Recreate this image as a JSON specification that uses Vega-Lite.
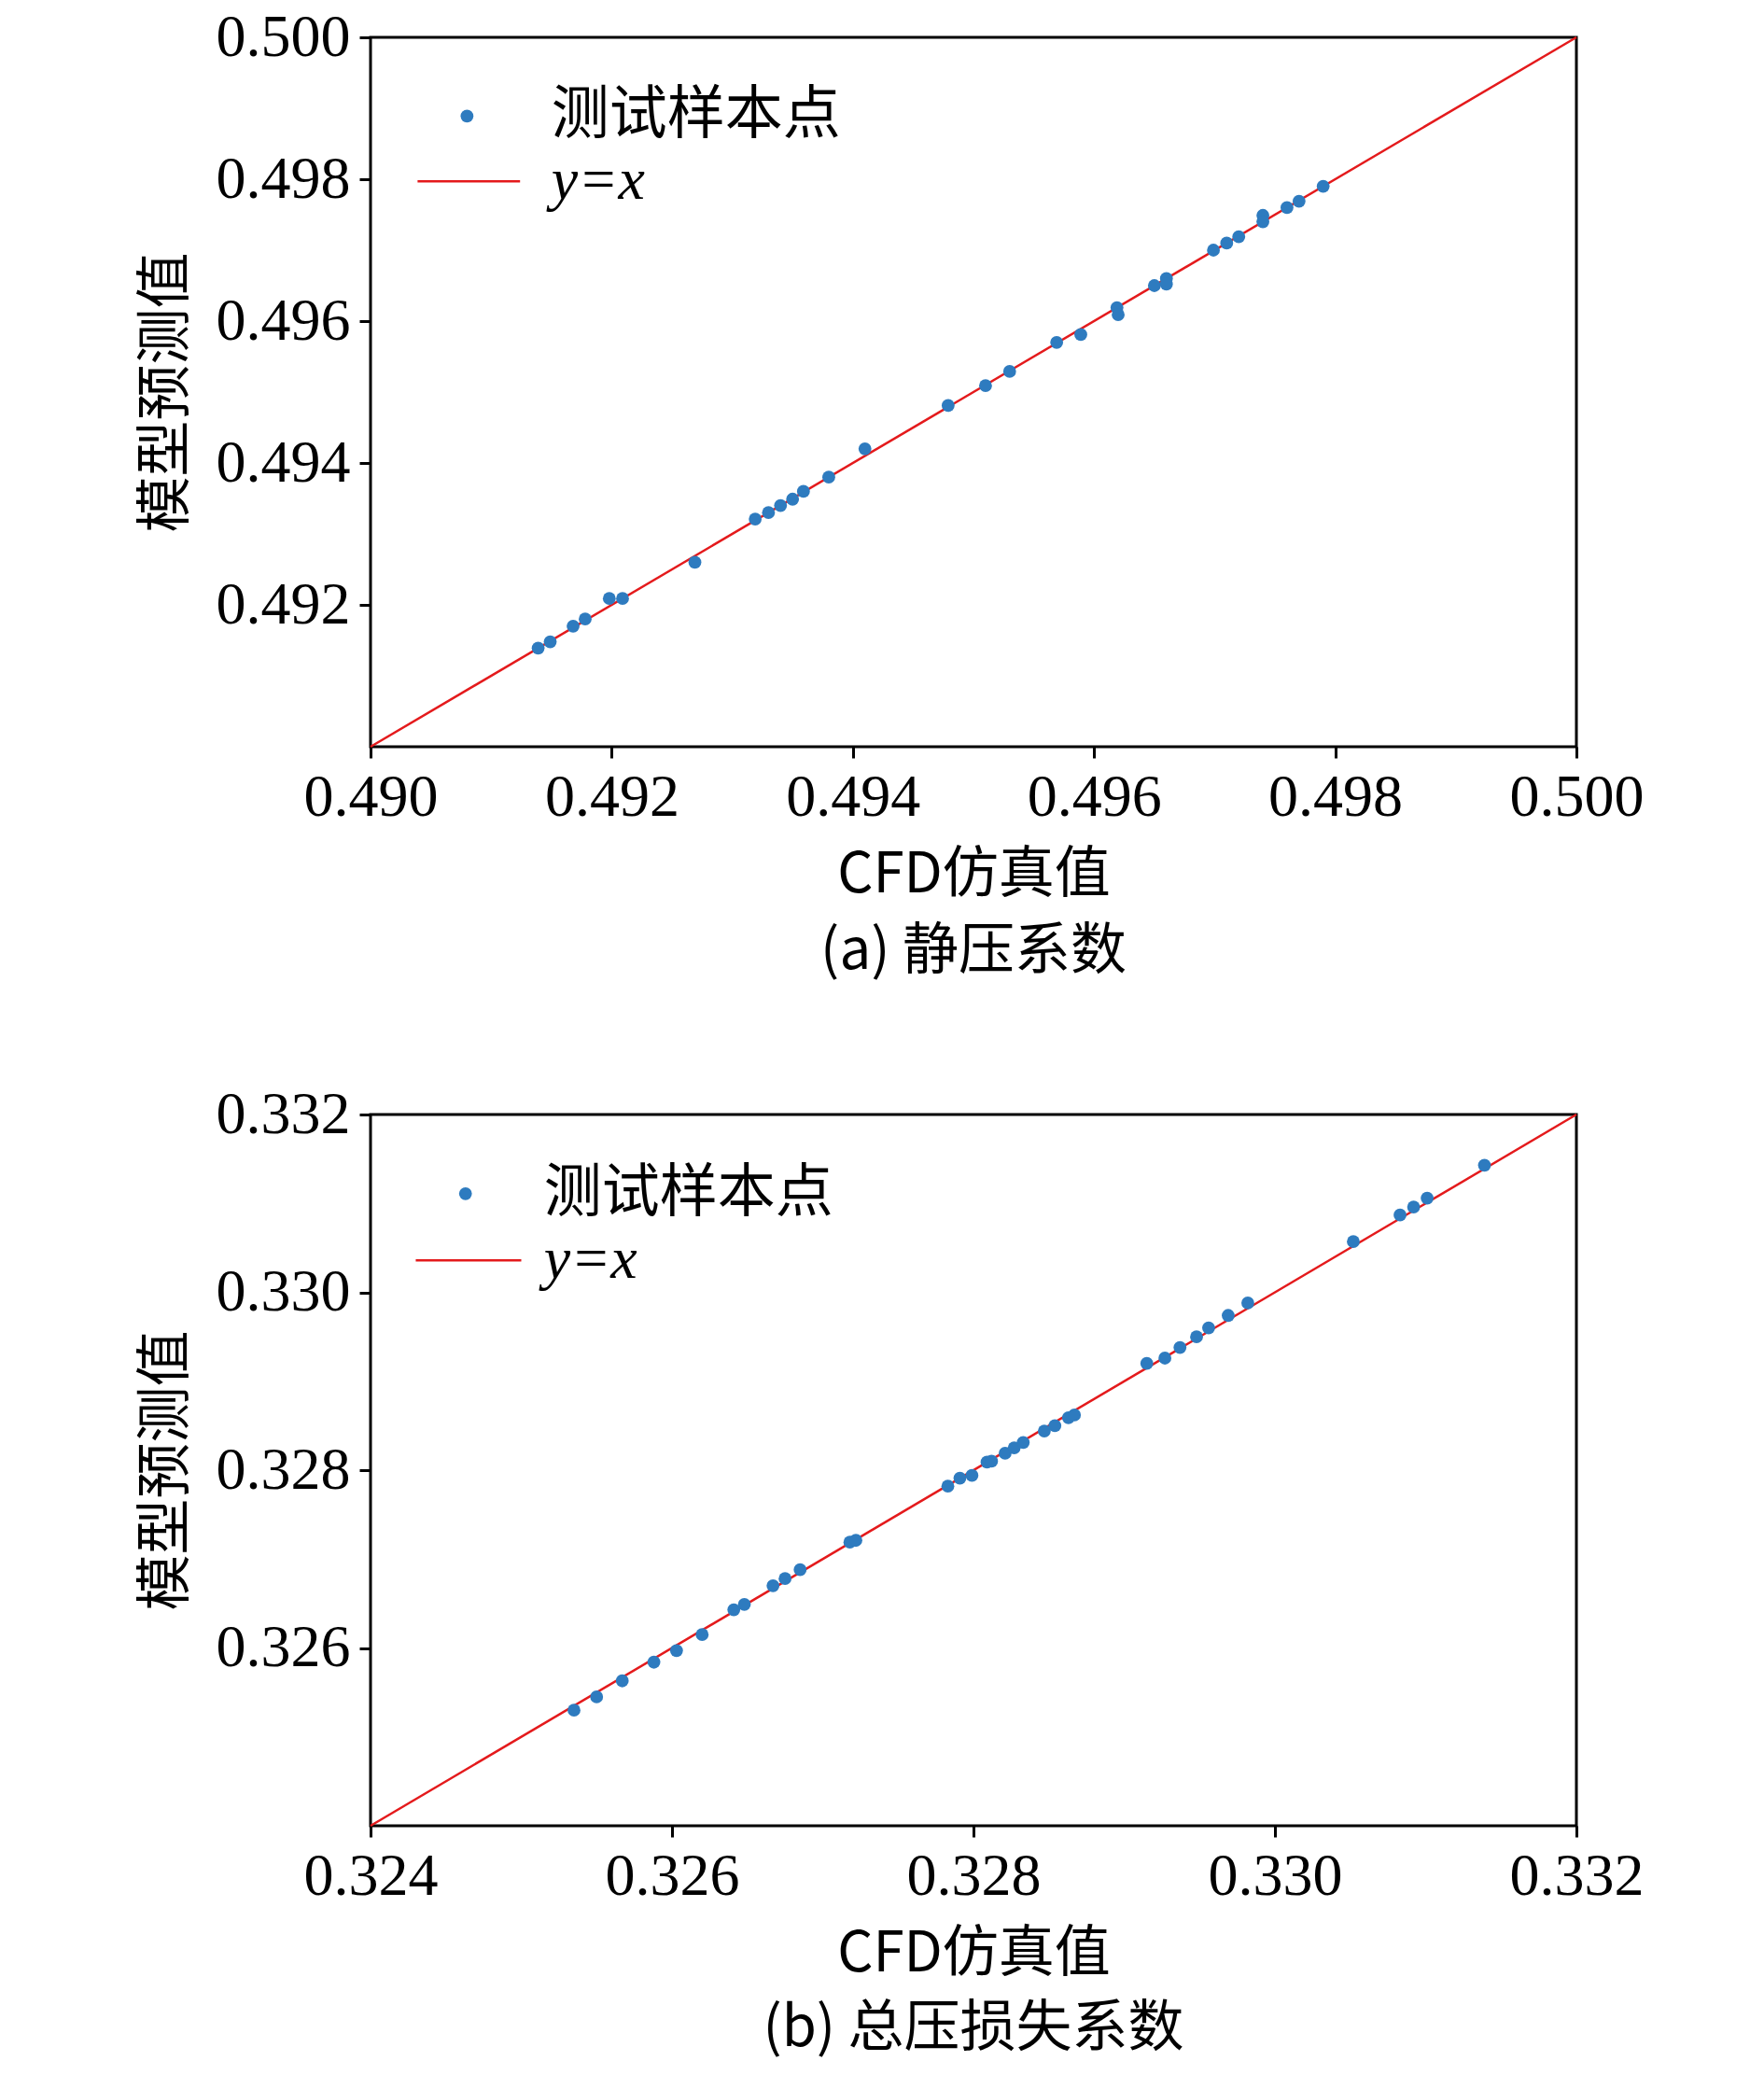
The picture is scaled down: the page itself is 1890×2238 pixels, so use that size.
{
  "$schema": "https://vega.github.io/schema/vega-lite/v6.json",
  "background": "white",
  "padding": {"left": 146, "top": 6, "right": 10, "bottom": 0},
  "datasets": {
    "a": [
      {"x": 0.49139, "y": 0.49139}, {"x": 0.49149, "y": 0.49148}, {"x": 0.49168, "y": 0.49170},
      {"x": 0.49178, "y": 0.49180}, {"x": 0.49198, "y": 0.49209}, {"x": 0.49209, "y": 0.49209},
      {"x": 0.49269, "y": 0.49260}, {"x": 0.49319, "y": 0.49321}, {"x": 0.49330, "y": 0.49330},
      {"x": 0.49340, "y": 0.49340}, {"x": 0.49350, "y": 0.49349}, {"x": 0.49359, "y": 0.49360},
      {"x": 0.49380, "y": 0.49380}, {"x": 0.49410, "y": 0.49420}, {"x": 0.49479, "y": 0.49481},
      {"x": 0.49510, "y": 0.49509}, {"x": 0.49530, "y": 0.49529}, {"x": 0.49569, "y": 0.49570},
      {"x": 0.49589, "y": 0.49581}, {"x": 0.49619, "y": 0.49619}, {"x": 0.49620, "y": 0.49609},
      {"x": 0.49650, "y": 0.49650}, {"x": 0.49660, "y": 0.49660}, {"x": 0.49660, "y": 0.49652},
      {"x": 0.49699, "y": 0.49700}, {"x": 0.49710, "y": 0.49710}, {"x": 0.49720, "y": 0.49719},
      {"x": 0.49740, "y": 0.49749}, {"x": 0.49740, "y": 0.49740}, {"x": 0.49760, "y": 0.49760},
      {"x": 0.49770, "y": 0.49769}, {"x": 0.49790, "y": 0.49790}
    ],
    "b": [
      {"x": 0.32535, "y": 0.32530}, {"x": 0.32550, "y": 0.32545}, {"x": 0.32567, "y": 0.32563},
      {"x": 0.32588, "y": 0.32584}, {"x": 0.32603, "y": 0.32597}, {"x": 0.32620, "y": 0.32615},
      {"x": 0.32641, "y": 0.32643}, {"x": 0.32648, "y": 0.32649}, {"x": 0.32667, "y": 0.32670},
      {"x": 0.32675, "y": 0.32678}, {"x": 0.32685, "y": 0.32688}, {"x": 0.32718, "y": 0.32719},
      {"x": 0.32722, "y": 0.32721}, {"x": 0.32783, "y": 0.32782}, {"x": 0.32791, "y": 0.32791},
      {"x": 0.32799, "y": 0.32794}, {"x": 0.32809, "y": 0.32809}, {"x": 0.32812, "y": 0.32810},
      {"x": 0.32821, "y": 0.32819}, {"x": 0.32827, "y": 0.32825}, {"x": 0.32833, "y": 0.32831},
      {"x": 0.32847, "y": 0.32844}, {"x": 0.32854, "y": 0.32850}, {"x": 0.32863, "y": 0.32859},
      {"x": 0.32867, "y": 0.32862}, {"x": 0.32915, "y": 0.32920}, {"x": 0.32927, "y": 0.32926},
      {"x": 0.32937, "y": 0.32938}, {"x": 0.32948, "y": 0.32950}, {"x": 0.32956, "y": 0.32960},
      {"x": 0.32969, "y": 0.32974}, {"x": 0.32982, "y": 0.32988}, {"x": 0.33052, "y": 0.33057},
      {"x": 0.33083, "y": 0.33087}, {"x": 0.33092, "y": 0.33096}, {"x": 0.33101, "y": 0.33106},
      {"x": 0.33139, "y": 0.33143}
    ]
  },
  "vconcat": [
    {
      "width": 1292, "height": 760,
      "title": {"text": "(a) 静压系数", "orient": "bottom", "offset": 24},
      "encoding": {
        "x": {"field": "x", "type": "quantitative", "title": "CFD仿真值",
          "scale": {"domain": [0.490, 0.500]},
          "axis": {"values": [0.490, 0.492, 0.494, 0.496, 0.498, 0.500], "format": ".3f"}},
        "y": {"field": "y", "type": "quantitative", "title": "模型预测值",
          "scale": {"domain": [0.490, 0.500]},
          "axis": {"values": [0.492, 0.494, 0.496, 0.498, 0.500], "format": ".3f"}}
      },
      "layer": [
        {"data": {"values": [{"x": 0.490, "y": 0.490}, {"x": 0.500, "y": 0.500}]},
          "mark": {"type": "line", "color": "#e41a1c", "strokeWidth": 2.5}},
        {"data": {"name": "a"}, "mark": {"type": "circle", "size": 190, "color": "#2e7bbf", "opacity": 1}},
        {"data": {"values": [{"x": 0.49080, "y": 0.49889}]}, "mark": {"type": "circle", "size": 190, "color": "#2e7bbf", "opacity": 1}},
        {"data": {"values": [{"x": 0.49039, "y": 0.49797}, {"x": 0.49124, "y": 0.49797}]},
          "mark": {"type": "line", "color": "#e41a1c", "strokeWidth": 2.5}},
        {"data": {"values": [{"x": 0.49150, "y": 0.49889, "t": "测试样本点"}]},
          "mark": {"type": "text", "align": "left", "baseline": "middle", "fontSize": 62, "font": "Noto Sans CJK SC"},
          "encoding": {"text": {"field": "t"}}},
        {"data": {"values": [{"x": 0.49150, "y": 0.49797, "t": "y=x"}]},
          "mark": {"type": "text", "align": "left", "baseline": "middle", "fontSize": 64, "fontStyle": "italic", "font": "Liberation Serif"},
          "encoding": {"text": {"field": "t"}}}
      ]
    },
    {
      "width": 1292, "height": 762,
      "title": {"text": "(b) 总压损失系数", "orient": "bottom", "offset": 22},
      "encoding": {
        "x": {"field": "x", "type": "quantitative", "title": "CFD仿真值",
          "scale": {"domain": [0.324, 0.332]},
          "axis": {"values": [0.324, 0.326, 0.328, 0.330, 0.332], "format": ".3f"}},
        "y": {"field": "y", "type": "quantitative", "title": "模型预测值",
          "scale": {"domain": [0.324, 0.332]},
          "axis": {"values": [0.326, 0.328, 0.330, 0.332], "format": ".3f"}}
      },
      "layer": [
        {"data": {"values": [{"x": 0.324, "y": 0.324}, {"x": 0.332, "y": 0.332}]},
          "mark": {"type": "line", "color": "#e41a1c", "strokeWidth": 2.5}},
        {"data": {"name": "b"}, "mark": {"type": "circle", "size": 190, "color": "#2e7bbf", "opacity": 1}},
        {"data": {"values": [{"x": 0.32463, "y": 0.33111}]}, "mark": {"type": "circle", "size": 190, "color": "#2e7bbf", "opacity": 1}},
        {"data": {"values": [{"x": 0.32430, "y": 0.33036}, {"x": 0.32500, "y": 0.33036}]},
          "mark": {"type": "line", "color": "#e41a1c", "strokeWidth": 2.5}},
        {"data": {"values": [{"x": 0.32515, "y": 0.33111, "t": "测试样本点"}]},
          "mark": {"type": "text", "align": "left", "baseline": "middle", "fontSize": 62, "font": "Noto Sans CJK SC"},
          "encoding": {"text": {"field": "t"}}},
        {"data": {"values": [{"x": 0.32515, "y": 0.33036, "t": "y=x"}]},
          "mark": {"type": "text", "align": "left", "baseline": "middle", "fontSize": 64, "fontStyle": "italic", "font": "Liberation Serif"},
          "encoding": {"text": {"field": "t"}}}
      ]
    }
  ],
  "spacing": 108,
  "config": {
    "font": "Liberation Serif",
    "view": {"stroke": "black", "strokeWidth": 3},
    "axis": {
      "grid": false, "domain": false, "ticks": true, "tickSize": 12, "tickWidth": 3, "tickColor": "black",
      "labelFont": "Liberation Serif", "labelFontSize": 64, "labelColor": "black", "labelPadding": 10,
      "labelFlush": false, "labelOverlap": false,
      "titleFont": "Noto Sans CJK SC", "titleFontSize": 60, "titleFontWeight": "normal", "titleColor": "black", "titlePadding": 22
    },
    "title": {"font": "Noto Sans CJK SC", "fontSize": 60, "fontWeight": "normal", "color": "black"}
  }
}
